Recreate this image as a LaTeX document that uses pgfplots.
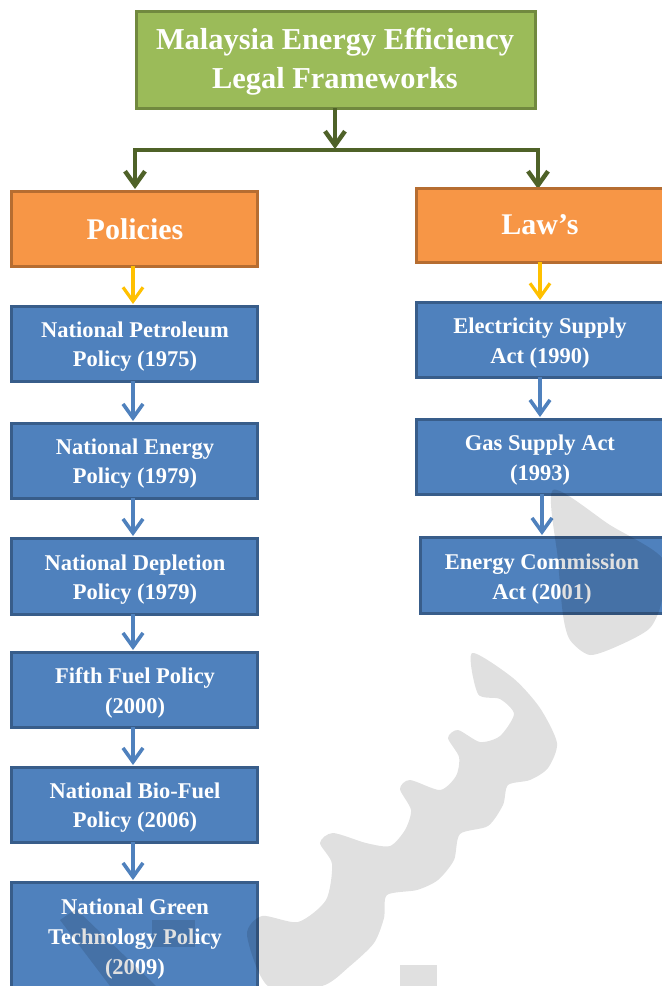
\documentclass[border=0pt]{standalone}
\usepackage{fontspec}
\setmainfont{Liberation Serif}
\usepackage{pgfplots}
\pgfplotsset{compat=1.18}
\usetikzlibrary{arrows.meta}
\definecolor{tgreen}{HTML}{9BBB59}
\definecolor{tgreenb}{HTML}{71893F}
\definecolor{conn}{HTML}{4F6228}
\definecolor{torange}{HTML}{F79646}
\definecolor{torangeb}{HTML}{B66D31}
\definecolor{tblue}{HTML}{4F81BD}
\definecolor{tblueb}{HTML}{385D8A}
\definecolor{tyellow}{HTML}{FFC000}
\begin{document}
\begin{tikzpicture}
\begin{axis}[width=331pt,height=493pt,scale only axis,
  xmin=0,xmax=662,ymin=0,ymax=986,y dir=reverse,hide axis,clip=false]
\tikzset{
  bb/.style={fill=tblue,draw=tblueb,line width=1.5pt},
  ob/.style={fill=torange,draw=torangeb,line width=1.5pt},
  bt/.style={text=white,font=\bfseries\fontsize{11.25}{14.6}\selectfont,align=center,inner sep=0pt},
  barb/.style={-{Straight Barb[length=7pt,width=10pt]}},
}
\coordinate (BBA) at (0,0);
\coordinate (BBB) at (662,986);
% title
\draw[fill=tgreen,draw=tgreenb,line width=1.5pt] (136,11) rectangle (535,108);
\node[text=white,font=\bfseries\fontsize{15.2}{19.5}\selectfont,align=center,inner sep=0pt] at (335,62) {Malaysia Energy Efficiency\\Legal Frameworks};
% green connectors
\draw[conn,line width=2.2pt,barb] (335,108) -- (335,149);
\draw[conn,line width=2.2pt,{Straight Barb[length=7pt,width=10pt]}-{Straight Barb[length=7pt,width=10pt]}] (135,189) -- (135,150) -- (538,150) -- (538,189);
% orange
\draw[ob] (11,191) rectangle (257,266);
\node[text=white,font=\bfseries\fontsize{15}{18}\selectfont,inner sep=0pt] at (135,229) {Policies};
\fill[torange] (416,188) rectangle (662,262);
\draw[draw=torangeb,line width=1.5pt] (662,188) -- (416,188) -- (416,262) -- (662,262);
\node[text=white,font=\bfseries\fontsize{15}{18}\selectfont,inner sep=0pt] at (540,225) {Law’s};
% yellow arrows
\draw[tyellow,line width=1.6pt,barb] (133,266) -- (133,304);
\draw[tyellow,line width=1.6pt,barb] (540,262) -- (540,300);
% left boxes
\draw[bb] (11,306) rectangle (257,381);
\node[bt] at (135,347) {National Petroleum\\Policy (1975)};
\draw[bb] (11,423) rectangle (257,498);
\node[bt] at (135,464) {National Energy\\Policy (1979)};
\draw[bb] (11,538) rectangle (257,614);
\node[bt] at (135,580) {National Depletion\\Policy (1979)};
\draw[bb] (11,652) rectangle (257,727);
\node[bt] at (135,693) {Fifth Fuel Policy\\(2000)};
\draw[bb] (11,767) rectangle (257,842);
\node[bt] at (135,808) {National Bio-Fuel\\Policy (2006)};
\fill[tblue] (11,882) rectangle (257,986);
\draw[draw=tblueb,line width=1.5pt] (11,986) -- (11,882) -- (257,882) -- (257,986);
\node[bt,font=\bfseries\fontsize{11.25}{15.2}\selectfont] at (135,939) {National Green\\Technology Policy\\(2009)};
% left arrows
\draw[tblue,line width=1.8pt,barb] (133,381) -- (133,421);
\draw[tblue,line width=1.8pt,barb] (133,498) -- (133,536);
\draw[tblue,line width=1.8pt,barb] (133,614) -- (133,650);
\draw[tblue,line width=1.8pt,barb] (133,727) -- (133,765);
\draw[tblue,line width=1.8pt,barb] (133,842) -- (133,880);
% right boxes
\fill[tblue] (416,302) rectangle (662,377);
\draw[draw=tblueb,line width=1.5pt] (662,302) -- (416,302) -- (416,377) -- (662,377);
\node[bt] at (540,343) {Electricity Supply\\Act (1990)};
\fill[tblue] (416,419) rectangle (662,494);
\draw[draw=tblueb,line width=1.5pt] (662,419) -- (416,419) -- (416,494) -- (662,494);
\node[bt] at (540,460) {Gas Supply Act\\(1993)};
\fill[tblue] (420,537) rectangle (662,613);
\draw[draw=tblueb,line width=1.5pt] (662,537) -- (420,537) -- (420,613) -- (662,613);
\node[bt] at (542,579) {Energy Commission\\Act (2001)};
\draw[tblue,line width=1.8pt,barb] (540,377) -- (540,417);
\draw[tblue,line width=1.8pt,barb] (542,494) -- (542,535);
% watermark
\fill[black,opacity=0.12] plot[smooth cycle,tension=0.45] coordinates {
 (553,490) (610,525) (662,558) (662,600) (650,628) (620,645) (590,655) (570,640) (563,615) (558,560)};
\fill[black,opacity=0.12] plot[smooth cycle,tension=0.45] coordinates {
 (472,653) (513,678) (540,708) (557,743) (548,768) (530,780) (508,785) (503,805) (488,826) (460,834)
 (454,860) (438,880) (417,890) (387,895) (384,918) (374,943) (350,966) (322,986) (268,986)
 (247,935) (262,916) (298,922) (326,900) (332,864) (320,843) (333,833) (366,843) (390,846)
 (405,830) (411,810) (400,789) (410,780) (440,790) (456,776) (459,757) (448,738) (458,730)
 (480,742) (500,736) (514,714) (500,699) (478,694)};
\fill[black,opacity=0.12] (60,920) -- (76,909) -- (156,986) -- (110,986) -- cycle;
\fill[black,opacity=0.12] (152,920) rectangle (195,947);
\fill[black,opacity=0.12] (400,965) rectangle (437,986);
\end{axis}
\pgfresetboundingbox
\path (BBA) rectangle (BBB);
\end{tikzpicture}
\end{document}
